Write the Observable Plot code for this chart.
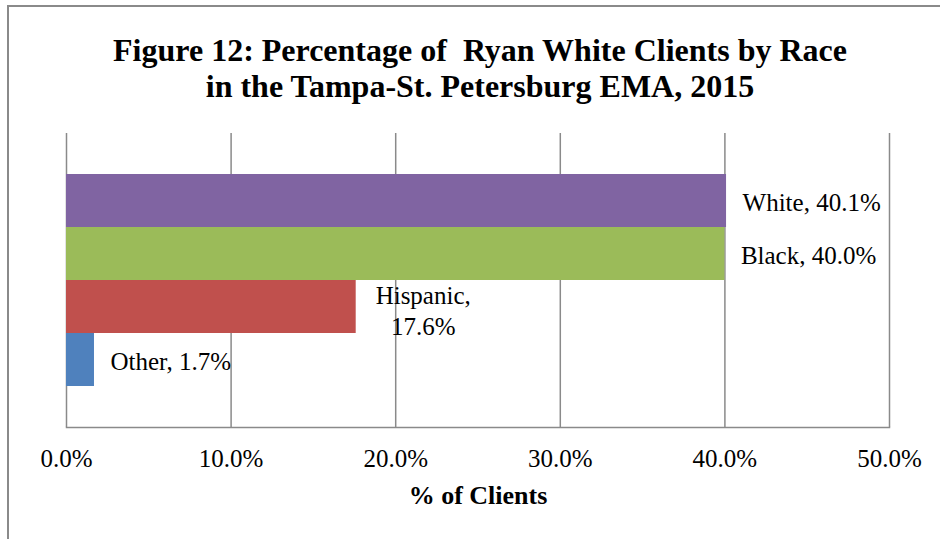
<!DOCTYPE html>
<html>
<head>
<meta charset="utf-8">
<script src="https://cdn.jsdelivr.net/npm/d3@7"></script>
<script src="https://cdn.jsdelivr.net/npm/@observablehq/plot@0.6"></script>
<style>
  html, body { margin: 0; padding: 0; background: #fff; }
  #wrap { position: relative; width: 940px; height: 539px; overflow: hidden; }
  #border { position: absolute; left: 7px; top: 5px; width: 1200px; height: 1200px;
            border-left: 2px solid #8a8a8a; border-top: 2px solid #8a8a8a; box-sizing: border-box; }
  #title { position: relative; width: 960px; height: 110px; box-sizing: border-box; padding-top: 32px;
           font-family: "Liberation Serif", "Times New Roman", serif; font-weight: bold;
           font-size: 32px; line-height: 36px; text-align: center; white-space: pre; color: #000; }
  #chart { position: relative; }
</style>
</head>
<body>
<div id="wrap">
  <div id="border"></div>
  <div id="title">Figure 12: Percentage of  Ryan White Clients by Race
in the Tampa-St. Petersburg EMA, 2015</div>
  <div id="chart"></div>
</div>
<script>
const races = ["White", "Black", "Hispanic", "Other"];
const values = [40.1, 40.0, 17.6, 1.7];
const colors = ["#8064A2", "#9BBB59", "#C0504D", "#4F81BD"];
const xTicks = [0, 10, 20, 30, 40, 50];
const xTitle = "% of Clients";

const data = races.map((r, i) => ({
  race: r,
  value: values[i],
  label: r === "Hispanic"
    ? `${r},\n${values[i].toFixed(1)}%`
    : `${r}, ${values[i].toFixed(1)}%`
}));

const font = "Liberation Serif, Times New Roman, serif";
const gridColor = "#8a8a8a";

const chart = Plot.plot({
  width: 940,
  height: 429,
  marginLeft: 66,
  marginRight: 51,
  marginTop: 23,
  marginBottom: 112,
  style: { fontFamily: font, background: "transparent", color: "#000" },
  x: { domain: [0, 50], ticks: xTicks },
  y: { domain: races, paddingInner: 0, paddingOuter: 0.75, axis: null },
  color: { domain: races, range: colors },
  marks: [
    Plot.gridX(xTicks, { stroke: gridColor, strokeOpacity: 1, strokeWidth: 1.5 }),
    Plot.frame({ anchor: "bottom", stroke: gridColor, strokeWidth: 1.5 }),
    Plot.barX(data, { y: "race", x: "value", fill: "race" }),
    Plot.axisX(xTicks, {
      tickSize: 0, tickPadding: 22, fontSize: 25, label: null,
      tickFormat: d => d.toFixed(1) + "%"
    }),
    Plot.text(data.filter(d => !d.label.includes("\n")), {
      y: "race", x: "value", text: "label", textAnchor: "start", dx: 16, dy: 2,
      fontSize: 25, fill: "#000"
    }),
    Plot.text(data.filter(d => d.label.includes("\n")), {
      y: "race", x: "value", text: "label", textAnchor: "middle", dx: 67, dy: 3,
      fontSize: 25, lineHeight: 1.24, fill: "#000"
    }),
    Plot.text([xTitle], {
      text: d => d, frameAnchor: "bottom", dy: 76, fontSize: 26, fontWeight: "bold", fill: "#000"
    })
  ]
});
document.getElementById("chart").appendChild(chart);
</script>
</body>
</html>
